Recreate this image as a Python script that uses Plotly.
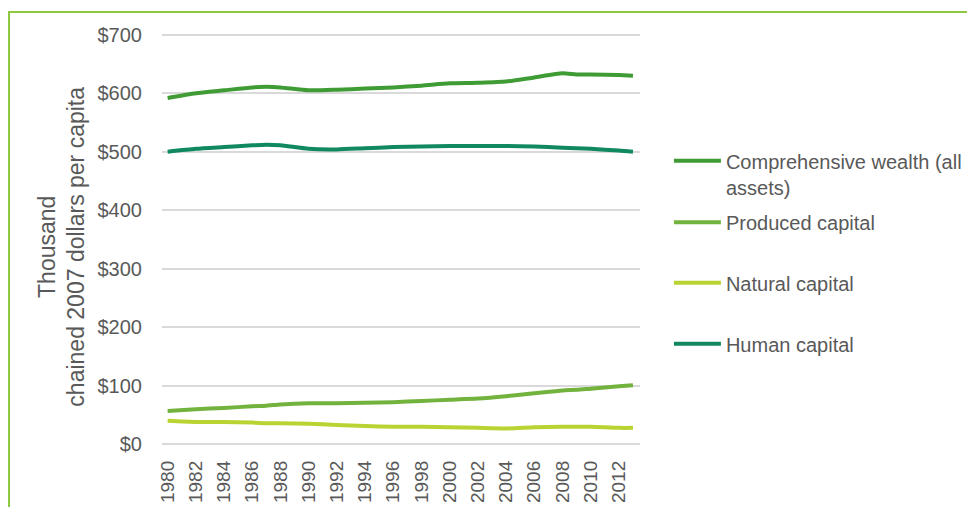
import plotly.graph_objects as go

years = [1980, 1982, 1984, 1986, 1987, 1988, 1990, 1992, 1994, 1996, 1998, 2000,
         2002, 2004, 2006, 2008, 2009, 2010, 2012, 2013]
comprehensive = [592, 600, 605, 610, 611, 610, 605, 606, 608, 610, 613, 617,
                 618, 620, 627, 634, 632, 632, 631, 630]
human = [500, 505, 508, 511, 512, 511, 505, 504, 506, 508, 509, 510,
         510, 510, 509, 507, 506, 505, 502, 500]
produced = [57, 60, 62, 65, 66, 68, 70, 70, 71, 72, 74, 76,
            78, 82, 87, 92, 93, 95, 99, 101]
natural = [40, 38, 38, 37, 36, 36, 35, 33, 31, 30, 30, 29,
           28, 27, 29, 30, 30, 30, 28, 28]

names = ["Comprehensive wealth (all<br>assets)", "Produced capital",
         "Natural capital", "Human capital"]
series = [comprehensive, produced, natural, human]
colors = ["#3f9c35", "#72b33e", "#b9d432", "#11895f"]
legend_ids = ["legend", "legend2", "legend3", "legend4"]
legend_y = [0.6592, 0.5416, 0.3953, 0.2474]

tick_years = list(range(1980, 2013, 2))
y_ticks = [0, 100, 200, 300, 400, 500, 600, 700]
y_labels = ["$" + str(v) for v in y_ticks]
y_title = "Thousand<br>chained 2007 dollars per capita"

font_family = "Liberation Sans, Arial, sans-serif"
text_color = "#595959"

fig = go.Figure()
for nm, vals, col, lg in zip(names, series, colors, legend_ids):
    fig.add_trace(go.Scatter(x=years, y=vals, name=nm, mode="lines",
                             line=dict(color=col, width=4, shape="spline", smoothing=0.6),
                             legend=lg))

legend_common = dict(x=1.0605, xanchor="left", yanchor="middle", valign="top",
                     bgcolor="rgba(0,0,0,0)", itemwidth=47,
                     font=dict(family=font_family, size=20, color=text_color))
layout_legends = {}
for lg, ly in zip(legend_ids, legend_y):
    layout_legends[lg] = dict(legend_common, y=ly)

fig.update_layout(
    width=975, height=507,
    margin=dict(l=154, r=343, t=25, b=69),
    paper_bgcolor="white", plot_bgcolor="white",
    font=dict(family=font_family, size=20, color=text_color),
    showlegend=True,
    **layout_legends,
    xaxis=dict(range=[1979.6, 2013.5], tickmode="array", tickvals=tick_years,
               ticktext=[str(y) for y in tick_years], tickangle=-90,
               showgrid=False, zeroline=False, showline=False,
               tickfont=dict(size=19, color=text_color), automargin=False,
               ticks="", ticklabelstandoff=10),
    yaxis=dict(range=[-3, 703], tickmode="array", tickvals=y_ticks, ticktext=y_labels,
               showgrid=True, gridcolor="#d9d9d9", gridwidth=1.5, zeroline=False,
               showline=False, ticks="", ticklabelstandoff=19, automargin=False,
               tickfont=dict(size=20, color=text_color)),
)

fig.add_annotation(text=y_title, textangle=-90, xref="paper", yref="paper",
                   x=-0.21, y=0.4818, xanchor="center", yanchor="middle",
                   showarrow=False, font=dict(size=23, color=text_color))

fig.add_shape(type="rect", xref="paper", yref="paper", x0=-0.32, x1=2.0,
              y0=-1.0, y1=1.051, line=dict(color="#8dc63f", width=2),
              fillcolor="rgba(0,0,0,0)", layer="below")

fig.write_html("out.html")
